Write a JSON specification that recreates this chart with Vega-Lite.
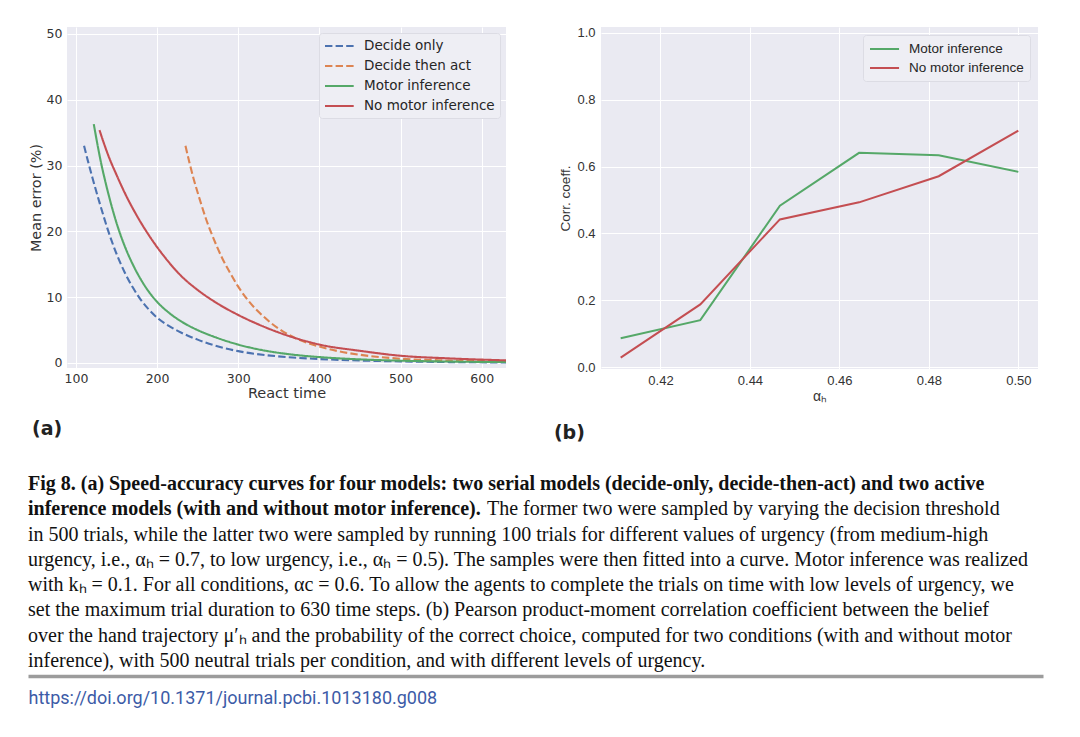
{
  "$schema": "https://vega.github.io/schema/vega-lite/v6.json",
  "background": "white",
  "padding": {"left": 28, "top": 26, "right": 5, "bottom": 5},
  "autosize": {"type": "pad"},
  "config": {
    "view": {"stroke": null},
    "axis": {"domain": false, "ticks": false, "gridColor": "white", "gridWidth": 1, "labelColor": "#333333", "titleColor": "#333333", "titleFontWeight": "normal"}
  },
  "datasets": {
    "speed": [
      {"model": "Decide only", "rt": 110, "err": 33.0},
      {"model": "Decide only", "rt": 115, "err": 30.6},
      {"model": "Decide only", "rt": 120, "err": 28.3},
      {"model": "Decide only", "rt": 130, "err": 24.0},
      {"model": "Decide only", "rt": 140, "err": 20.0},
      {"model": "Decide only", "rt": 150, "err": 16.6},
      {"model": "Decide only", "rt": 160, "err": 13.8},
      {"model": "Decide only", "rt": 170, "err": 11.5},
      {"model": "Decide only", "rt": 180, "err": 9.6},
      {"model": "Decide only", "rt": 190, "err": 8.1},
      {"model": "Decide only", "rt": 200, "err": 6.9},
      {"model": "Decide only", "rt": 215, "err": 5.6},
      {"model": "Decide only", "rt": 230, "err": 4.6},
      {"model": "Decide only", "rt": 250, "err": 3.55},
      {"model": "Decide only", "rt": 270, "err": 2.7},
      {"model": "Decide only", "rt": 300, "err": 1.8},
      {"model": "Decide only", "rt": 330, "err": 1.25},
      {"model": "Decide only", "rt": 360, "err": 0.9},
      {"model": "Decide only", "rt": 400, "err": 0.6},
      {"model": "Decide only", "rt": 450, "err": 0.38},
      {"model": "Decide only", "rt": 500, "err": 0.24},
      {"model": "Decide only", "rt": 560, "err": 0.14},
      {"model": "Decide only", "rt": 630, "err": 0.08},
      {"model": "Decide then act", "rt": 235, "err": 33.0},
      {"model": "Decide then act", "rt": 240, "err": 30.4},
      {"model": "Decide then act", "rt": 245, "err": 28.0},
      {"model": "Decide then act", "rt": 250, "err": 25.9},
      {"model": "Decide then act", "rt": 255, "err": 23.9},
      {"model": "Decide then act", "rt": 260, "err": 22.0},
      {"model": "Decide then act", "rt": 270, "err": 18.8},
      {"model": "Decide then act", "rt": 280, "err": 16.0},
      {"model": "Decide then act", "rt": 290, "err": 13.7},
      {"model": "Decide then act", "rt": 300, "err": 11.6},
      {"model": "Decide then act", "rt": 315, "err": 9.1},
      {"model": "Decide then act", "rt": 330, "err": 7.2},
      {"model": "Decide then act", "rt": 350, "err": 5.2},
      {"model": "Decide then act", "rt": 370, "err": 3.8},
      {"model": "Decide then act", "rt": 400, "err": 2.5},
      {"model": "Decide then act", "rt": 425, "err": 1.75},
      {"model": "Decide then act", "rt": 450, "err": 1.25},
      {"model": "Decide then act", "rt": 500, "err": 0.65},
      {"model": "Decide then act", "rt": 560, "err": 0.38},
      {"model": "Decide then act", "rt": 630, "err": 0.25},
      {"model": "Motor inference", "rt": 122, "err": 36.3},
      {"model": "Motor inference", "rt": 130, "err": 31.0},
      {"model": "Motor inference", "rt": 140, "err": 25.7},
      {"model": "Motor inference", "rt": 150, "err": 21.3},
      {"model": "Motor inference", "rt": 160, "err": 17.8},
      {"model": "Motor inference", "rt": 170, "err": 15.0},
      {"model": "Motor inference", "rt": 180, "err": 12.7},
      {"model": "Motor inference", "rt": 190, "err": 10.8},
      {"model": "Motor inference", "rt": 200, "err": 9.3},
      {"model": "Motor inference", "rt": 215, "err": 7.6},
      {"model": "Motor inference", "rt": 230, "err": 6.3},
      {"model": "Motor inference", "rt": 250, "err": 5.0},
      {"model": "Motor inference", "rt": 270, "err": 4.0},
      {"model": "Motor inference", "rt": 300, "err": 2.8},
      {"model": "Motor inference", "rt": 330, "err": 1.95},
      {"model": "Motor inference", "rt": 360, "err": 1.38},
      {"model": "Motor inference", "rt": 400, "err": 0.9},
      {"model": "Motor inference", "rt": 450, "err": 0.55},
      {"model": "Motor inference", "rt": 500, "err": 0.35},
      {"model": "Motor inference", "rt": 560, "err": 0.22},
      {"model": "Motor inference", "rt": 630, "err": 0.14},
      {"model": "No motor inference", "rt": 129, "err": 35.4},
      {"model": "No motor inference", "rt": 135, "err": 33.2},
      {"model": "No motor inference", "rt": 140, "err": 31.5},
      {"model": "No motor inference", "rt": 150, "err": 28.6},
      {"model": "No motor inference", "rt": 160, "err": 25.9},
      {"model": "No motor inference", "rt": 175, "err": 22.4},
      {"model": "No motor inference", "rt": 190, "err": 19.4},
      {"model": "No motor inference", "rt": 210, "err": 16.0},
      {"model": "No motor inference", "rt": 230, "err": 13.2},
      {"model": "No motor inference", "rt": 250, "err": 11.1},
      {"model": "No motor inference", "rt": 275, "err": 9.0},
      {"model": "No motor inference", "rt": 300, "err": 7.3},
      {"model": "No motor inference", "rt": 330, "err": 5.6},
      {"model": "No motor inference", "rt": 370, "err": 3.8},
      {"model": "No motor inference", "rt": 400, "err": 2.8},
      {"model": "No motor inference", "rt": 450, "err": 1.85},
      {"model": "No motor inference", "rt": 500, "err": 1.1},
      {"model": "No motor inference", "rt": 560, "err": 0.7},
      {"model": "No motor inference", "rt": 630, "err": 0.4}
    ],
    "corr": [
      {"cond": "Motor inference", "alpha": 0.4111, "r": 0.087},
      {"cond": "Motor inference", "alpha": 0.4289, "r": 0.141},
      {"cond": "Motor inference", "alpha": 0.4467, "r": 0.483},
      {"cond": "Motor inference", "alpha": 0.4644, "r": 0.641},
      {"cond": "Motor inference", "alpha": 0.4822, "r": 0.634},
      {"cond": "Motor inference", "alpha": 0.5, "r": 0.584},
      {"cond": "No motor inference", "alpha": 0.4111, "r": 0.029},
      {"cond": "No motor inference", "alpha": 0.4289, "r": 0.188},
      {"cond": "No motor inference", "alpha": 0.4467, "r": 0.442},
      {"cond": "No motor inference", "alpha": 0.4644, "r": 0.493},
      {"cond": "No motor inference", "alpha": 0.4822, "r": 0.571},
      {"cond": "No motor inference", "alpha": 0.5, "r": 0.707}
    ],
    "caption": [
      {"line": 1, "part": "heading", "text": "Fig 8. (a) Speed-accuracy curves for four models: two serial models (decide-only, decide-then-act) and two active"},
      {"line": 2, "part": "heading", "text": "inference models (with and without motor inference)."},
      {"line": 2, "part": "body", "text": "The former two were sampled by varying the decision threshold"},
      {"line": 3, "part": "body", "text": "in 500 trials, while the latter two were sampled by running 100 trials for different values of urgency (from medium-high"},
      {"line": 4, "part": "body", "text": "urgency, i.e., αₕ = 0.7, to low urgency, i.e., αₕ = 0.5). The samples were then fitted into a curve. Motor inference was realized"},
      {"line": 5, "part": "body", "text": "with kₕ = 0.1. For all conditions, αc = 0.6. To allow the agents to complete the trials on time with low levels of urgency, we"},
      {"line": 6, "part": "body", "text": "set the maximum trial duration to 630 time steps. (b) Pearson product-moment correlation coefficient between the belief"},
      {"line": 7, "part": "body", "text": "over the hand trajectory μ′ₕ and the probability of the correct choice, computed for two conditions (with and without motor"},
      {"line": 8, "part": "body", "text": "inference), with 500 neutral trials per condition, and with different levels of urgency."}
    ]
  },
  "concat": [
    {
      "hconcat": [
        {
          "width": 439,
          "height": 341,
          "view": {"fill": "#EAEAF2", "stroke": null},
          "title": {"text": "(a)", "orient": "bottom", "anchor": "start", "frame": "bounds", "font": "DejaVu Sans", "fontSize": 19, "fontWeight": "bold", "color": "#222222", "offset": 20, "dx": 4},
          "data": {"name": "speed"},
          "mark": {"type": "line", "strokeWidth": 2.1, "interpolate": "monotone", "clip": true},
          "encoding": {
            "x": {"field": "rt", "type": "quantitative", "scale": {"domain": [89, 630], "nice": false, "zero": false},
              "axis": {"values": [100, 200, 300, 400, 500, 600], "title": "React time", "labelFont": "DejaVu Sans", "titleFont": "DejaVu Sans", "labelFontSize": 12.5, "titleFontSize": 14.5, "labelPadding": 4, "titlePadding": 2}},
            "y": {"field": "err", "type": "quantitative", "scale": {"domain": [-0.76, 51.06], "nice": false, "zero": false},
              "axis": {"values": [0, 10, 20, 30, 40, 50], "title": "Mean error (%)", "labelFont": "DejaVu Sans", "titleFont": "DejaVu Sans", "labelFontSize": 12.5, "titleFontSize": 14.4, "labelPadding": 5, "titlePadding": 3}},
            "color": {"field": "model", "type": "nominal",
              "scale": {"domain": ["Decide only", "Decide then act", "Motor inference", "No motor inference"], "range": ["#4C72B0", "#DD8452", "#55A868", "#C44E52"]},
              "legend": {"title": null, "orient": "top-right", "offset": 6, "padding": 5, "fillColor": "#EEEEF4", "strokeColor": "#DCDCE4", "cornerRadius": 3, "symbolType": "M-1,0L3.1,0", "symbolSize": 196, "symbolStrokeWidth": 2, "labelFont": "DejaVu Sans", "labelFontSize": 13.5, "labelColor": "#262626", "rowPadding": 5, "labelOffset": 24}},
            "strokeDash": {"field": "model", "type": "nominal",
              "scale": {"domain": ["Decide only", "Decide then act", "Motor inference", "No motor inference"], "range": [[7.4, 3.2], [7.4, 3.2], [1, 0], [1, 0]]},
              "legend": {"title": null, "orient": "top-right", "offset": 6, "padding": 5, "fillColor": "#EEEEF4", "strokeColor": "#DCDCE4", "cornerRadius": 3, "symbolType": "M-1,0L3.1,0", "symbolSize": 196, "symbolStrokeWidth": 2, "labelFont": "DejaVu Sans", "labelFontSize": 13.5, "labelColor": "#262626", "rowPadding": 5, "labelOffset": 24}}
          }
        },
        {
          "width": 437,
          "height": 342,
          "view": {"fill": "#EAEAF2", "stroke": null},
          "title": {"text": "(b)", "orient": "bottom", "anchor": "start", "frame": "bounds", "font": "DejaVu Sans", "fontSize": 19, "fontWeight": "bold", "color": "#222222", "offset": 21, "dx": -5},
          "data": {"name": "corr"},
          "mark": {"type": "line", "strokeWidth": 2},
          "encoding": {
            "x": {"field": "alpha", "type": "quantitative", "scale": {"domain": [0.4067, 0.5044], "nice": false, "zero": false},
              "axis": {"values": [0.42, 0.44, 0.46, 0.48, 0.5], "format": ".2f", "title": "αₕ", "labelFont": "Liberation Sans", "titleFont": "Liberation Sans", "labelFontSize": 13, "titleFontSize": 14, "labelPadding": 5, "titlePadding": 2}},
            "y": {"field": "r", "type": "quantitative", "scale": {"domain": [-0.0051, 1.017], "nice": false, "zero": false},
              "axis": {"values": [0, 0.2, 0.4, 0.6, 0.8, 1.0], "format": ".1f", "title": "Corr. coeff.", "labelFont": "Liberation Sans", "titleFont": "Liberation Sans", "labelFontSize": 13, "titleFontSize": 13.5, "labelPadding": 6, "titlePadding": 4}},
            "color": {"field": "cond", "type": "nominal",
              "scale": {"domain": ["Motor inference", "No motor inference"], "range": ["#55A868", "#C44E52"]},
              "legend": {"title": null, "orient": "top-right", "offset": 8, "padding": 6, "fillColor": "#EEEEF4", "strokeColor": "#DCDCE4", "cornerRadius": 3, "symbolType": "M-1,0L3.15,0", "symbolSize": 196, "symbolStrokeWidth": 2, "labelFont": "Liberation Sans", "labelFontSize": 13.5, "labelColor": "#262626", "rowPadding": 4, "labelOffset": 24}}
          }
        }
      ],
      "spacing": 95,
      "bounds": "flush",
      "resolve": {"scale": {"color": "independent", "strokeDash": "independent"}, "legend": {"color": "independent", "strokeDash": "independent"}}
    },
    {
      "width": 976,
      "height": 198,
      "view": {"fill": null, "stroke": null},
      "data": {"name": "caption"},
      "encoding": {
        "x": {"datum": 0, "type": "quantitative", "scale": {"domain": [0, 1], "range": [-39, 976], "nice": false},
          "axis": {"orient": "bottom", "domain": true, "domainColor": "#9c9c9c", "domainWidth": 3.5, "ticks": false, "labels": false, "grid": false,
            "title": "https://doi.org/10.1371/journal.pcbi.1013180.g008", "titleAnchor": "start", "titleAlign": "left", "titleFont": "Roboto", "titleFontSize": 18, "titleFontWeight": "normal", "titleColor": "#3c5ba7", "titlePadding": 13}},
        "y": {"field": "line", "type": "quantitative", "scale": {"domain": [0.7627, 8.5932], "reverse": true, "nice": false, "zero": false}, "axis": null},
        "text": {"field": "text"}
      },
      "layer": [
        {"transform": [{"filter": "datum.part == 'heading'"}],
          "mark": {"type": "text", "align": "left", "baseline": "middle", "font": "Liberation Serif", "fontSize": 20, "fontWeight": "bold", "color": "#111111"}},
        {"transform": [{"filter": "datum.part == 'body' && datum.line != 2"}],
          "mark": {"type": "text", "align": "left", "baseline": "middle", "font": "Liberation Serif", "fontSize": 20, "color": "#111111"}},
        {"transform": [{"filter": "datum.part == 'body' && datum.line == 2"}],
          "mark": {"type": "text", "align": "left", "baseline": "middle", "font": "Liberation Serif", "fontSize": 20, "color": "#111111", "dx": 459}}
      ]
    }
  ],
  "columns": 1,
  "align": "none",
  "spacing": 31
}
